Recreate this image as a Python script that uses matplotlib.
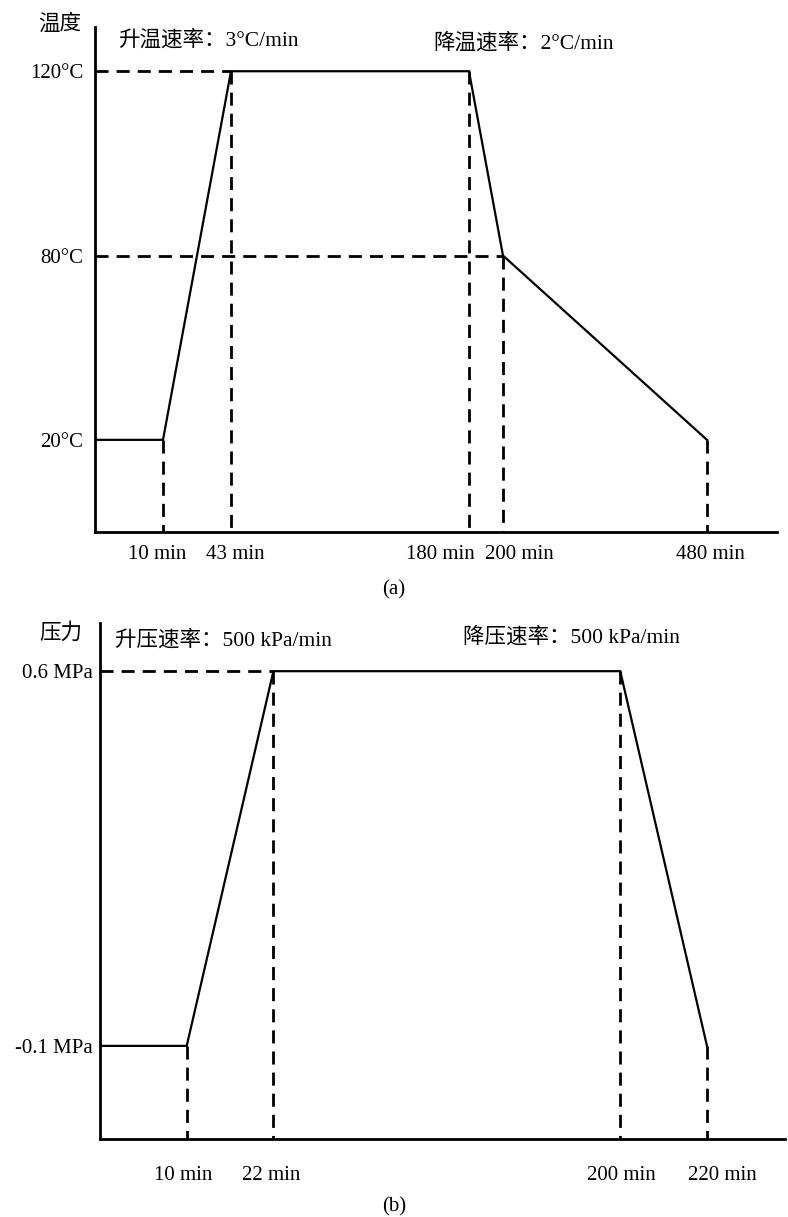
import numpy as np
import matplotlib as mplt
mplt.use('Agg')
import matplotlib.pyplot as plt

plt.rcParams['font.family'] = ['Liberation Serif', 'Noto Sans CJK SC']
plt.rcParams['axes.unicode_minus'] = False

# (a) temperature programme
temp_time = [0, 10, 43, 180, 200, 480]          # min
temp_val = [20, 20, 120, 120, 80, 20]           # degC
temp_ticks = [20, 80, 120]
temp_ticklabels = ['20°C', '80°C', '120°C']
time_ticks_a = [10, 43, 180, 200, 480]
time_labels_a = ['10 min', '43 min', '180 min', '200 min', '480 min']

# (b) pressure programme
press_time = [0, 10, 22, 200, 220]              # min
press_val = [-0.1, -0.1, 0.6, 0.6, -0.1]        # MPa
press_ticks = [-0.1, 0.6]
press_ticklabels = ['-0.1 MPa', '0.6 MPa']
time_ticks_b = [10, 22, 200, 220]
time_labels_b = ['10 min', '22 min', '200 min', '220 min']

# schematic (non-proportional) axes: piecewise mapping value -> slot
xa_breaks, xa_slots = [0, 10, 43, 180, 200, 480, 576], [0, 1, 2, 5.5, 6, 9, 10.03]
ya_breaks, ya_slots = [-10, 20, 80, 120, 130], [-0.5, 0, 1, 2, 2.24]
xb_breaks, xb_slots = [0, 10, 22, 200, 220, 238], [0, 1, 2, 6, 7, 7.9]


def piecewise(breaks, slots):
    fwd = lambda v: np.interp(v, breaks, slots)
    inv = lambda s: np.interp(s, slots, breaks)
    return fwd, inv


W, H = 788, 1217
fig = plt.figure(figsize=(W / 100, H / 100), dpi=100)
axa = fig.add_axes([95 / W, 1 - 532 / H, 682 / W, 505 / H])
axb = fig.add_axes([100 / W, 1 - 1139 / H, 685 / W, 516 / H])

dash = (0, (4.7, 2.9))
FS = 15

axa.set_xscale('function', functions=piecewise(xa_breaks, xa_slots))
axa.set_yscale('function', functions=piecewise(ya_breaks, ya_slots))
axb.set_xscale('function', functions=piecewise(xb_breaks, xb_slots))

for ax in (axa, axb):
    for s in ('top', 'right'):
        ax.spines[s].set_visible(False)
    for s in ('left', 'bottom'):
        ax.spines[s].set_linewidth(2.0)
        ax.spines[s].set_zorder(5)
    ax.tick_params(length=0, labelsize=FS)
    ax.set_xticks([])
    ax.minorticks_off()

# ---- (a)
axa.set_xlim(xa_breaks[0], xa_breaks[-1])
axa.set_ylim(ya_breaks[0], ya_breaks[-1])
axa.plot(temp_time, temp_val, c='k', lw=1.6, solid_joinstyle='miter', zorder=4)
for t, v in zip(temp_time[1:], temp_val[1:]):
    axa.plot([t, t], [v, ya_breaks[0]], c='k', lw=2.0, ls=dash, zorder=3)
for t, v in zip(temp_time[2:5:2], temp_val[2:5:2]):
    axa.plot([0, t], [v, v], c='k', lw=2.0, ls=dash, zorder=3)
axa.set_yticks(temp_ticks, temp_ticklabels)
axa.tick_params(axis='y', pad=8.6)

offs_a = [-4.3, 2.9, -20.9, 11.5, 2.2]
for t, lab, dx in zip(time_ticks_a, time_labels_a, offs_a):
    axa.annotate(lab, xy=(t, 0), xycoords=axa.get_xaxis_transform(),
                 xytext=(dx, -16.5), textcoords='offset points',
                 ha='center', va='center', fontsize=FS)

# ---- (b)
axb.set_xlim(xb_breaks[0], xb_breaks[-1])
axb.set_ylim(-0.274, 0.69)
axb.plot(press_time, press_val, c='k', lw=1.6, solid_joinstyle='miter', zorder=4)
for t, v in zip(press_time[1:], press_val[1:]):
    axb.plot([t, t], [v, -0.274], c='k', lw=2.0, ls=dash, zorder=3)
axb.plot([0, press_time[2]], [press_val[2], press_val[2]], c='k', lw=2.0, ls=dash, zorder=3)
axb.set_yticks(press_ticks, press_ticklabels)
axb.tick_params(axis='y', pad=5)

offs_b = [-2.2, -1.4, 0.7, 10.8]
for t, lab, dx in zip(time_ticks_b, time_labels_b, offs_b):
    axb.annotate(lab, xy=(t, 0), xycoords=axb.get_xaxis_transform(),
                 xytext=(dx, -26), textcoords='offset points',
                 ha='center', va='center', fontsize=FS)

# headers and panel letters
def ftext(x, y, s, fs=FS, **kw):
    fig.text(x / W, 1 - y / H, s, fontsize=fs, va='center', **kw)

ftext(60, 24, '温度', ha='center', fs=15.5)
ftext(118, 40, '升温速率：3°C/min', ha='left', fs=15.5)
ftext(433, 43, '降温速率：2°C/min', ha='left', fs=15.5)
ftext(394, 590, '(a)', ha='center')

ftext(61, 633, '压力', ha='center', fs=15.5)
ftext(115, 640, '升压速率：500 kPa/min', ha='left', fs=15.5)
ftext(463, 637, '降压速率：500 kPa/min', ha='left', fs=15.5)
ftext(394, 1207, '(b)', ha='center')

plt.savefig('out.png', dpi=100)
